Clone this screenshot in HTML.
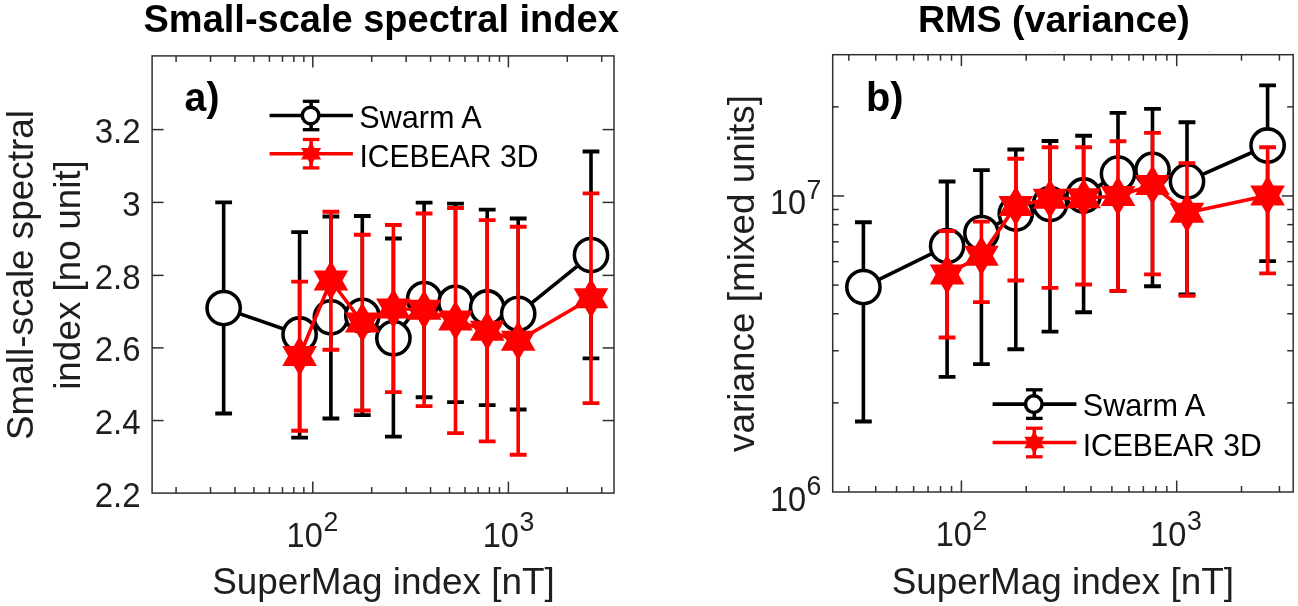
<!DOCTYPE html>
<html lang="en"><head><meta charset="utf-8"><title>Small-scale spectral index and RMS (variance)</title>
<style>
html,body{margin:0;padding:0;background:#fff;}
body{width:1298px;height:606px;overflow:hidden;font-family:"Liberation Sans", sans-serif;}
svg{display:block;}
</style></head><body>
<svg width="1298" height="606" viewBox="0 0 1298 606" font-family='"Liberation Sans", sans-serif' role="img" aria-label="Two-panel figure: small-scale spectral index and RMS variance versus SuperMag index">
<rect width="1298" height="606" fill="#fff"/>
<rect x="152.1" y="55.9" width="461.9" height="437.20000000000005" fill="#fff" stroke="#303030" stroke-width="1.5"/>
<line x1="176.08" y1="493.10" x2="176.08" y2="487.10" stroke="#303030" stroke-width="1.5" stroke-linecap="butt"/>
<line x1="176.08" y1="55.90" x2="176.08" y2="61.90" stroke="#303030" stroke-width="1.5" stroke-linecap="butt"/>
<line x1="210.52" y1="493.10" x2="210.52" y2="487.10" stroke="#303030" stroke-width="1.5" stroke-linecap="butt"/>
<line x1="210.52" y1="55.90" x2="210.52" y2="61.90" stroke="#303030" stroke-width="1.5" stroke-linecap="butt"/>
<line x1="234.96" y1="493.10" x2="234.96" y2="487.10" stroke="#303030" stroke-width="1.5" stroke-linecap="butt"/>
<line x1="234.96" y1="55.90" x2="234.96" y2="61.90" stroke="#303030" stroke-width="1.5" stroke-linecap="butt"/>
<line x1="253.92" y1="493.10" x2="253.92" y2="487.10" stroke="#303030" stroke-width="1.5" stroke-linecap="butt"/>
<line x1="253.92" y1="55.90" x2="253.92" y2="61.90" stroke="#303030" stroke-width="1.5" stroke-linecap="butt"/>
<line x1="269.41" y1="493.10" x2="269.41" y2="487.10" stroke="#303030" stroke-width="1.5" stroke-linecap="butt"/>
<line x1="269.41" y1="55.90" x2="269.41" y2="61.90" stroke="#303030" stroke-width="1.5" stroke-linecap="butt"/>
<line x1="282.50" y1="493.10" x2="282.50" y2="487.10" stroke="#303030" stroke-width="1.5" stroke-linecap="butt"/>
<line x1="282.50" y1="55.90" x2="282.50" y2="61.90" stroke="#303030" stroke-width="1.5" stroke-linecap="butt"/>
<line x1="293.84" y1="493.10" x2="293.84" y2="487.10" stroke="#303030" stroke-width="1.5" stroke-linecap="butt"/>
<line x1="293.84" y1="55.90" x2="293.84" y2="61.90" stroke="#303030" stroke-width="1.5" stroke-linecap="butt"/>
<line x1="303.85" y1="493.10" x2="303.85" y2="487.10" stroke="#303030" stroke-width="1.5" stroke-linecap="butt"/>
<line x1="303.85" y1="55.90" x2="303.85" y2="61.90" stroke="#303030" stroke-width="1.5" stroke-linecap="butt"/>
<line x1="312.80" y1="493.10" x2="312.80" y2="481.60" stroke="#303030" stroke-width="1.5" stroke-linecap="butt"/>
<line x1="312.80" y1="55.90" x2="312.80" y2="67.40" stroke="#303030" stroke-width="1.5" stroke-linecap="butt"/>
<line x1="371.68" y1="493.10" x2="371.68" y2="487.10" stroke="#303030" stroke-width="1.5" stroke-linecap="butt"/>
<line x1="371.68" y1="55.90" x2="371.68" y2="61.90" stroke="#303030" stroke-width="1.5" stroke-linecap="butt"/>
<line x1="406.12" y1="493.10" x2="406.12" y2="487.10" stroke="#303030" stroke-width="1.5" stroke-linecap="butt"/>
<line x1="406.12" y1="55.90" x2="406.12" y2="61.90" stroke="#303030" stroke-width="1.5" stroke-linecap="butt"/>
<line x1="430.56" y1="493.10" x2="430.56" y2="487.10" stroke="#303030" stroke-width="1.5" stroke-linecap="butt"/>
<line x1="430.56" y1="55.90" x2="430.56" y2="61.90" stroke="#303030" stroke-width="1.5" stroke-linecap="butt"/>
<line x1="449.52" y1="493.10" x2="449.52" y2="487.10" stroke="#303030" stroke-width="1.5" stroke-linecap="butt"/>
<line x1="449.52" y1="55.90" x2="449.52" y2="61.90" stroke="#303030" stroke-width="1.5" stroke-linecap="butt"/>
<line x1="465.01" y1="493.10" x2="465.01" y2="487.10" stroke="#303030" stroke-width="1.5" stroke-linecap="butt"/>
<line x1="465.01" y1="55.90" x2="465.01" y2="61.90" stroke="#303030" stroke-width="1.5" stroke-linecap="butt"/>
<line x1="478.10" y1="493.10" x2="478.10" y2="487.10" stroke="#303030" stroke-width="1.5" stroke-linecap="butt"/>
<line x1="478.10" y1="55.90" x2="478.10" y2="61.90" stroke="#303030" stroke-width="1.5" stroke-linecap="butt"/>
<line x1="489.44" y1="493.10" x2="489.44" y2="487.10" stroke="#303030" stroke-width="1.5" stroke-linecap="butt"/>
<line x1="489.44" y1="55.90" x2="489.44" y2="61.90" stroke="#303030" stroke-width="1.5" stroke-linecap="butt"/>
<line x1="499.45" y1="493.10" x2="499.45" y2="487.10" stroke="#303030" stroke-width="1.5" stroke-linecap="butt"/>
<line x1="499.45" y1="55.90" x2="499.45" y2="61.90" stroke="#303030" stroke-width="1.5" stroke-linecap="butt"/>
<line x1="508.40" y1="493.10" x2="508.40" y2="481.60" stroke="#303030" stroke-width="1.5" stroke-linecap="butt"/>
<line x1="508.40" y1="55.90" x2="508.40" y2="67.40" stroke="#303030" stroke-width="1.5" stroke-linecap="butt"/>
<line x1="567.28" y1="493.10" x2="567.28" y2="487.10" stroke="#303030" stroke-width="1.5" stroke-linecap="butt"/>
<line x1="567.28" y1="55.90" x2="567.28" y2="61.90" stroke="#303030" stroke-width="1.5" stroke-linecap="butt"/>
<line x1="601.72" y1="493.10" x2="601.72" y2="487.10" stroke="#303030" stroke-width="1.5" stroke-linecap="butt"/>
<line x1="601.72" y1="55.90" x2="601.72" y2="61.90" stroke="#303030" stroke-width="1.5" stroke-linecap="butt"/>
<text transform="translate(140.50 506.55) scale(1.0 1.06)" font-size="33.0" text-anchor="end" fill="#1e1e1e">2.2</text>
<line x1="152.10" y1="420.55" x2="163.60" y2="420.55" stroke="#303030" stroke-width="1.5" stroke-linecap="butt"/>
<line x1="614.00" y1="420.55" x2="602.50" y2="420.55" stroke="#303030" stroke-width="1.5" stroke-linecap="butt"/>
<text transform="translate(140.50 434.00) scale(1.0 1.06)" font-size="33.0" text-anchor="end" fill="#1e1e1e">2.4</text>
<line x1="152.10" y1="347.90" x2="163.60" y2="347.90" stroke="#303030" stroke-width="1.5" stroke-linecap="butt"/>
<line x1="614.00" y1="347.90" x2="602.50" y2="347.90" stroke="#303030" stroke-width="1.5" stroke-linecap="butt"/>
<text transform="translate(140.50 361.35) scale(1.0 1.06)" font-size="33.0" text-anchor="end" fill="#1e1e1e">2.6</text>
<line x1="152.10" y1="275.40" x2="163.60" y2="275.40" stroke="#303030" stroke-width="1.5" stroke-linecap="butt"/>
<line x1="614.00" y1="275.40" x2="602.50" y2="275.40" stroke="#303030" stroke-width="1.5" stroke-linecap="butt"/>
<text transform="translate(140.50 288.85) scale(1.0 1.06)" font-size="33.0" text-anchor="end" fill="#1e1e1e">2.8</text>
<line x1="152.10" y1="202.40" x2="163.60" y2="202.40" stroke="#303030" stroke-width="1.5" stroke-linecap="butt"/>
<line x1="614.00" y1="202.40" x2="602.50" y2="202.40" stroke="#303030" stroke-width="1.5" stroke-linecap="butt"/>
<text transform="translate(140.50 215.85) scale(1.0 1.06)" font-size="33.0" text-anchor="end" fill="#1e1e1e">3</text>
<line x1="152.10" y1="129.60" x2="163.60" y2="129.60" stroke="#303030" stroke-width="1.5" stroke-linecap="butt"/>
<line x1="614.00" y1="129.60" x2="602.50" y2="129.60" stroke="#303030" stroke-width="1.5" stroke-linecap="butt"/>
<text transform="translate(140.50 143.05) scale(1.0 1.06)" font-size="33.0" text-anchor="end" fill="#1e1e1e">3.2</text>
<text transform="translate(286.60 547.00) scale(0.985 1.06)" font-size="33.0" fill="#1e1e1e">10</text>
<text transform="translate(323.50 531.40) scale(1.0 1.03)" font-size="26.6" fill="#1e1e1e">2</text>
<text transform="translate(482.67 547.00) scale(0.985 1.06)" font-size="33.0" fill="#1e1e1e">10</text>
<text transform="translate(519.57 531.40) scale(1.0 1.03)" font-size="26.6" fill="#1e1e1e">3</text>
<text transform="translate(383.45 594.00)" font-size="36.9" text-anchor="middle" fill="#1e1e1e">SuperMag index [nT]</text>
<text transform="translate(33.00 275.00) rotate(-90)" font-size="36.9" text-anchor="middle" fill="#1e1e1e">Small-scale spectral</text>
<text transform="translate(80.00 275.00) rotate(-90)" font-size="36.9" text-anchor="middle" fill="#1e1e1e">index [no unit]</text>
<text transform="translate(381.15 31.90)" font-size="38" text-anchor="middle" font-weight="bold" fill="#000">Small-scale spectral index</text>
<g>
<polyline points="223.65,308.10 299.60,334.50 330.90,317.30 362.30,315.80 393.40,338.20 424.10,299.10 455.50,302.80 487.20,307.50 518.20,313.80 591.00,255.10" fill="none" stroke="#000000" stroke-width="3.6" stroke-linejoin="miter"/>
<path d="M223.65 202.40V413.50M299.60 232.10V437.60M330.90 216.50V418.50M362.30 216.00V415.10M393.40 238.50V436.60M424.10 202.60V397.30M455.50 203.60V402.10M487.20 209.60V405.10M518.20 218.50V409.50M591.00 151.50V358.40" fill="none" stroke="#000000" stroke-width="3.6"/>
<path d="M215.25 202.40h16.8M215.25 413.50h16.8M291.20 232.10h16.8M291.20 437.60h16.8M322.50 216.50h16.8M322.50 418.50h16.8M353.90 216.00h16.8M353.90 415.10h16.8M385.00 238.50h16.8M385.00 436.60h16.8M415.70 202.60h16.8M415.70 397.30h16.8M447.10 203.60h16.8M447.10 402.10h16.8M478.80 209.60h16.8M478.80 405.10h16.8M509.80 218.50h16.8M509.80 409.50h16.8M582.60 151.50h16.8M582.60 358.40h16.8" fill="none" stroke="#000000" stroke-width="3.9"/>
<circle cx="223.65" cy="308.10" r="16.62" fill="#fff" stroke="#000000" stroke-width="3.55"/>
<circle cx="299.60" cy="334.50" r="16.62" fill="#fff" stroke="#000000" stroke-width="3.55"/>
<circle cx="330.90" cy="317.30" r="16.62" fill="#fff" stroke="#000000" stroke-width="3.55"/>
<circle cx="362.30" cy="315.80" r="16.62" fill="#fff" stroke="#000000" stroke-width="3.55"/>
<circle cx="393.40" cy="338.20" r="16.62" fill="#fff" stroke="#000000" stroke-width="3.55"/>
<circle cx="424.10" cy="299.10" r="16.62" fill="#fff" stroke="#000000" stroke-width="3.55"/>
<circle cx="455.50" cy="302.80" r="16.62" fill="#fff" stroke="#000000" stroke-width="3.55"/>
<circle cx="487.20" cy="307.50" r="16.62" fill="#fff" stroke="#000000" stroke-width="3.55"/>
<circle cx="518.20" cy="313.80" r="16.62" fill="#fff" stroke="#000000" stroke-width="3.55"/>
<circle cx="591.00" cy="255.10" r="16.62" fill="#fff" stroke="#000000" stroke-width="3.55"/>
</g><g>
<polyline points="299.60,356.00 330.90,280.50 362.30,322.60 393.40,308.50 424.10,309.80 455.50,320.60 487.20,330.70 518.20,340.70 591.00,298.20" fill="none" stroke="#ff0000" stroke-width="3.6" stroke-linejoin="miter"/>
<path d="M299.60 281.60V430.70M330.90 211.70V349.70M362.30 234.70V410.50M393.40 225.00V392.10M424.10 213.50V406.10M455.50 208.00V433.10M487.20 220.10V441.40M518.20 226.70V454.80M591.00 193.40V403.10" fill="none" stroke="#ff0000" stroke-width="3.6"/>
<path d="M291.20 281.60h16.8M291.20 430.70h16.8M322.50 211.70h16.8M322.50 349.70h16.8M353.90 234.70h16.8M353.90 410.50h16.8M385.00 225.00h16.8M385.00 392.10h16.8M415.70 213.50h16.8M415.70 406.10h16.8M447.10 208.00h16.8M447.10 433.10h16.8M478.80 220.10h16.8M478.80 441.40h16.8M509.80 226.70h16.8M509.80 454.80h16.8M582.60 193.40h16.8M582.60 403.10h16.8" fill="none" stroke="#ff0000" stroke-width="3.9"/>
<polygon points="299.60,336.00 305.37,346.00 316.92,346.00 311.15,356.00 316.92,366.00 305.37,366.00 299.60,376.00 293.83,366.00 282.28,366.00 288.05,356.00 282.28,346.00 293.83,346.00" fill="#ff0000"/>
<polygon points="330.90,260.50 336.67,270.50 348.22,270.50 342.45,280.50 348.22,290.50 336.67,290.50 330.90,300.50 325.13,290.50 313.58,290.50 319.35,280.50 313.58,270.50 325.13,270.50" fill="#ff0000"/>
<polygon points="362.30,302.60 368.07,312.60 379.62,312.60 373.85,322.60 379.62,332.60 368.07,332.60 362.30,342.60 356.53,332.60 344.98,332.60 350.75,322.60 344.98,312.60 356.53,312.60" fill="#ff0000"/>
<polygon points="393.40,288.50 399.17,298.50 410.72,298.50 404.95,308.50 410.72,318.50 399.17,318.50 393.40,328.50 387.63,318.50 376.08,318.50 381.85,308.50 376.08,298.50 387.63,298.50" fill="#ff0000"/>
<polygon points="424.10,289.80 429.87,299.80 441.42,299.80 435.65,309.80 441.42,319.80 429.87,319.80 424.10,329.80 418.33,319.80 406.78,319.80 412.55,309.80 406.78,299.80 418.33,299.80" fill="#ff0000"/>
<polygon points="455.50,300.60 461.27,310.60 472.82,310.60 467.05,320.60 472.82,330.60 461.27,330.60 455.50,340.60 449.73,330.60 438.18,330.60 443.95,320.60 438.18,310.60 449.73,310.60" fill="#ff0000"/>
<polygon points="487.20,310.70 492.97,320.70 504.52,320.70 498.75,330.70 504.52,340.70 492.97,340.70 487.20,350.70 481.43,340.70 469.88,340.70 475.65,330.70 469.88,320.70 481.43,320.70" fill="#ff0000"/>
<polygon points="518.20,320.70 523.97,330.70 535.52,330.70 529.75,340.70 535.52,350.70 523.97,350.70 518.20,360.70 512.43,350.70 500.88,350.70 506.65,340.70 500.88,330.70 512.43,330.70" fill="#ff0000"/>
<polygon points="591.00,278.20 596.77,288.20 608.32,288.20 602.55,298.20 608.32,308.20 596.77,308.20 591.00,318.20 585.23,308.20 573.68,308.20 579.45,298.20 573.68,288.20 585.23,288.20" fill="#ff0000"/>
</g>
<line x1="269.60" y1="115.50" x2="352.90" y2="115.50" stroke="#000000" stroke-width="3.6" stroke-linecap="butt"/>
<line x1="311.10" y1="101.30" x2="311.10" y2="129.70" stroke="#000000" stroke-width="3.6" stroke-linecap="butt"/>
<line x1="302.80" y1="101.30" x2="319.40" y2="101.30" stroke="#000000" stroke-width="3.3" stroke-linecap="butt"/>
<line x1="302.80" y1="129.70" x2="319.40" y2="129.70" stroke="#000000" stroke-width="3.3" stroke-linecap="butt"/>
<circle cx="310.60" cy="115.50" r="8.3" fill="#fff" stroke="#000000" stroke-width="3.5"/>
<line x1="269.60" y1="153.70" x2="352.90" y2="153.70" stroke="#ff0000" stroke-width="3.6" stroke-linecap="butt"/>
<line x1="311.10" y1="139.50" x2="311.10" y2="167.90" stroke="#ff0000" stroke-width="3.6" stroke-linecap="butt"/>
<line x1="302.80" y1="139.50" x2="319.40" y2="139.50" stroke="#ff0000" stroke-width="3.3" stroke-linecap="butt"/>
<line x1="302.80" y1="167.90" x2="319.40" y2="167.90" stroke="#ff0000" stroke-width="3.3" stroke-linecap="butt"/>
<polygon points="311.10,142.10 314.45,147.90 321.15,147.90 317.80,153.70 321.15,159.50 314.45,159.50 311.10,165.30 307.75,159.50 301.05,159.50 304.40,153.70 301.05,147.90 307.75,147.90" fill="#ff0000"/>
<text transform="translate(359.20 128.00) scale(1.015 1.01)" font-size="30.2" fill="#000">Swarm A</text>
<text transform="translate(359.45 167.00) scale(0.997 1.02)" font-size="30.2" fill="#000">ICEBEAR 3D</text>
<text transform="translate(184.60 110.80) scale(1.005 1.035)" font-size="39" font-weight="bold" fill="#000">a)</text>
<rect x="832.7" y="54.7" width="460.5" height="437.3" fill="#fff" stroke="#303030" stroke-width="1.5"/>
<line x1="848.82" y1="492.00" x2="848.82" y2="486.00" stroke="#303030" stroke-width="1.5" stroke-linecap="butt"/>
<line x1="848.82" y1="54.70" x2="848.82" y2="60.70" stroke="#303030" stroke-width="1.5" stroke-linecap="butt"/>
<line x1="875.72" y1="492.00" x2="875.72" y2="486.00" stroke="#303030" stroke-width="1.5" stroke-linecap="butt"/>
<line x1="875.72" y1="54.70" x2="875.72" y2="60.70" stroke="#303030" stroke-width="1.5" stroke-linecap="butt"/>
<line x1="896.59" y1="492.00" x2="896.59" y2="486.00" stroke="#303030" stroke-width="1.5" stroke-linecap="butt"/>
<line x1="896.59" y1="54.70" x2="896.59" y2="60.70" stroke="#303030" stroke-width="1.5" stroke-linecap="butt"/>
<line x1="913.64" y1="492.00" x2="913.64" y2="486.00" stroke="#303030" stroke-width="1.5" stroke-linecap="butt"/>
<line x1="913.64" y1="54.70" x2="913.64" y2="60.70" stroke="#303030" stroke-width="1.5" stroke-linecap="butt"/>
<line x1="928.05" y1="492.00" x2="928.05" y2="486.00" stroke="#303030" stroke-width="1.5" stroke-linecap="butt"/>
<line x1="928.05" y1="54.70" x2="928.05" y2="60.70" stroke="#303030" stroke-width="1.5" stroke-linecap="butt"/>
<line x1="940.54" y1="492.00" x2="940.54" y2="486.00" stroke="#303030" stroke-width="1.5" stroke-linecap="butt"/>
<line x1="940.54" y1="54.70" x2="940.54" y2="60.70" stroke="#303030" stroke-width="1.5" stroke-linecap="butt"/>
<line x1="951.55" y1="492.00" x2="951.55" y2="486.00" stroke="#303030" stroke-width="1.5" stroke-linecap="butt"/>
<line x1="951.55" y1="54.70" x2="951.55" y2="60.70" stroke="#303030" stroke-width="1.5" stroke-linecap="butt"/>
<line x1="961.40" y1="492.00" x2="961.40" y2="480.50" stroke="#303030" stroke-width="1.5" stroke-linecap="butt"/>
<line x1="961.40" y1="54.70" x2="961.40" y2="66.20" stroke="#303030" stroke-width="1.5" stroke-linecap="butt"/>
<line x1="1026.21" y1="492.00" x2="1026.21" y2="486.00" stroke="#303030" stroke-width="1.5" stroke-linecap="butt"/>
<line x1="1026.21" y1="54.70" x2="1026.21" y2="60.70" stroke="#303030" stroke-width="1.5" stroke-linecap="butt"/>
<line x1="1064.12" y1="492.00" x2="1064.12" y2="486.00" stroke="#303030" stroke-width="1.5" stroke-linecap="butt"/>
<line x1="1064.12" y1="54.70" x2="1064.12" y2="60.70" stroke="#303030" stroke-width="1.5" stroke-linecap="butt"/>
<line x1="1091.02" y1="492.00" x2="1091.02" y2="486.00" stroke="#303030" stroke-width="1.5" stroke-linecap="butt"/>
<line x1="1091.02" y1="54.70" x2="1091.02" y2="60.70" stroke="#303030" stroke-width="1.5" stroke-linecap="butt"/>
<line x1="1111.89" y1="492.00" x2="1111.89" y2="486.00" stroke="#303030" stroke-width="1.5" stroke-linecap="butt"/>
<line x1="1111.89" y1="54.70" x2="1111.89" y2="60.70" stroke="#303030" stroke-width="1.5" stroke-linecap="butt"/>
<line x1="1128.94" y1="492.00" x2="1128.94" y2="486.00" stroke="#303030" stroke-width="1.5" stroke-linecap="butt"/>
<line x1="1128.94" y1="54.70" x2="1128.94" y2="60.70" stroke="#303030" stroke-width="1.5" stroke-linecap="butt"/>
<line x1="1143.35" y1="492.00" x2="1143.35" y2="486.00" stroke="#303030" stroke-width="1.5" stroke-linecap="butt"/>
<line x1="1143.35" y1="54.70" x2="1143.35" y2="60.70" stroke="#303030" stroke-width="1.5" stroke-linecap="butt"/>
<line x1="1155.84" y1="492.00" x2="1155.84" y2="486.00" stroke="#303030" stroke-width="1.5" stroke-linecap="butt"/>
<line x1="1155.84" y1="54.70" x2="1155.84" y2="60.70" stroke="#303030" stroke-width="1.5" stroke-linecap="butt"/>
<line x1="1166.85" y1="492.00" x2="1166.85" y2="486.00" stroke="#303030" stroke-width="1.5" stroke-linecap="butt"/>
<line x1="1166.85" y1="54.70" x2="1166.85" y2="60.70" stroke="#303030" stroke-width="1.5" stroke-linecap="butt"/>
<line x1="1176.70" y1="492.00" x2="1176.70" y2="480.50" stroke="#303030" stroke-width="1.5" stroke-linecap="butt"/>
<line x1="1176.70" y1="54.70" x2="1176.70" y2="66.20" stroke="#303030" stroke-width="1.5" stroke-linecap="butt"/>
<line x1="1241.51" y1="492.00" x2="1241.51" y2="486.00" stroke="#303030" stroke-width="1.5" stroke-linecap="butt"/>
<line x1="1241.51" y1="54.70" x2="1241.51" y2="60.70" stroke="#303030" stroke-width="1.5" stroke-linecap="butt"/>
<line x1="1279.42" y1="492.00" x2="1279.42" y2="486.00" stroke="#303030" stroke-width="1.5" stroke-linecap="butt"/>
<line x1="1279.42" y1="54.70" x2="1279.42" y2="60.70" stroke="#303030" stroke-width="1.5" stroke-linecap="butt"/>
<line x1="832.70" y1="402.88" x2="838.70" y2="402.88" stroke="#303030" stroke-width="1.5" stroke-linecap="butt"/>
<line x1="1293.20" y1="402.88" x2="1287.20" y2="402.88" stroke="#303030" stroke-width="1.5" stroke-linecap="butt"/>
<line x1="832.70" y1="350.75" x2="838.70" y2="350.75" stroke="#303030" stroke-width="1.5" stroke-linecap="butt"/>
<line x1="1293.20" y1="350.75" x2="1287.20" y2="350.75" stroke="#303030" stroke-width="1.5" stroke-linecap="butt"/>
<line x1="832.70" y1="313.76" x2="838.70" y2="313.76" stroke="#303030" stroke-width="1.5" stroke-linecap="butt"/>
<line x1="1293.20" y1="313.76" x2="1287.20" y2="313.76" stroke="#303030" stroke-width="1.5" stroke-linecap="butt"/>
<line x1="832.70" y1="285.07" x2="838.70" y2="285.07" stroke="#303030" stroke-width="1.5" stroke-linecap="butt"/>
<line x1="1293.20" y1="285.07" x2="1287.20" y2="285.07" stroke="#303030" stroke-width="1.5" stroke-linecap="butt"/>
<line x1="832.70" y1="261.63" x2="838.70" y2="261.63" stroke="#303030" stroke-width="1.5" stroke-linecap="butt"/>
<line x1="1293.20" y1="261.63" x2="1287.20" y2="261.63" stroke="#303030" stroke-width="1.5" stroke-linecap="butt"/>
<line x1="832.70" y1="241.81" x2="838.70" y2="241.81" stroke="#303030" stroke-width="1.5" stroke-linecap="butt"/>
<line x1="1293.20" y1="241.81" x2="1287.20" y2="241.81" stroke="#303030" stroke-width="1.5" stroke-linecap="butt"/>
<line x1="832.70" y1="224.64" x2="838.70" y2="224.64" stroke="#303030" stroke-width="1.5" stroke-linecap="butt"/>
<line x1="1293.20" y1="224.64" x2="1287.20" y2="224.64" stroke="#303030" stroke-width="1.5" stroke-linecap="butt"/>
<line x1="832.70" y1="209.50" x2="838.70" y2="209.50" stroke="#303030" stroke-width="1.5" stroke-linecap="butt"/>
<line x1="1293.20" y1="209.50" x2="1287.20" y2="209.50" stroke="#303030" stroke-width="1.5" stroke-linecap="butt"/>
<line x1="832.70" y1="195.95" x2="844.20" y2="195.95" stroke="#303030" stroke-width="1.5" stroke-linecap="butt"/>
<line x1="1293.20" y1="195.95" x2="1281.70" y2="195.95" stroke="#303030" stroke-width="1.5" stroke-linecap="butt"/>
<line x1="832.70" y1="106.83" x2="838.70" y2="106.83" stroke="#303030" stroke-width="1.5" stroke-linecap="butt"/>
<line x1="1293.20" y1="106.83" x2="1287.20" y2="106.83" stroke="#303030" stroke-width="1.5" stroke-linecap="butt"/>
<text transform="translate(770.00 510.50) scale(0.985 1.06)" font-size="33.0" fill="#1e1e1e">10</text>
<text transform="translate(806.60 494.90) scale(1.0 1.03)" font-size="26.6" fill="#1e1e1e">6</text>
<text transform="translate(770.00 214.45) scale(0.985 1.06)" font-size="33.0" fill="#1e1e1e">10</text>
<text transform="translate(806.60 198.85) scale(1.0 1.03)" font-size="26.6" fill="#1e1e1e">7</text>
<text transform="translate(935.80 546.00) scale(0.985 1.06)" font-size="33.0" fill="#1e1e1e">10</text>
<text transform="translate(972.60 529.85) scale(1.0 1.03)" font-size="26.6" fill="#1e1e1e">2</text>
<text transform="translate(1150.20 546.00) scale(0.985 1.06)" font-size="33.0" fill="#1e1e1e">10</text>
<text transform="translate(1187.00 529.85) scale(1.0 1.03)" font-size="26.6" fill="#1e1e1e">3</text>
<text transform="translate(1062.85 593.80)" font-size="36.9" text-anchor="middle" fill="#1e1e1e">SuperMag index [nT]</text>
<text transform="translate(754.20 273.50) rotate(-90)" font-size="36.9" text-anchor="middle" fill="#1e1e1e">variance [mixed units]</text>
<text transform="translate(1053.90 32.20)" font-size="37.65" text-anchor="middle" font-weight="bold" fill="#000">RMS (variance)</text>
<rect x="1018.0" y="51.2" width="3" height="1" fill="#dcdcdc"/>
<rect x="1053.1" y="51.2" width="3" height="1" fill="#dcdcdc"/>
<rect x="1208.2" y="51.2" width="3" height="1" fill="#dcdcdc"/>
<g>
<polyline points="863.40,287.10 947.10,246.10 981.40,233.10 1015.80,213.50 1050.00,204.10 1083.60,195.50 1118.00,173.70 1152.50,169.90 1187.00,181.40 1267.60,145.50" fill="none" stroke="#000000" stroke-width="3.6" stroke-linejoin="miter"/>
<path d="M863.40 222.20V421.50M947.10 181.50V376.90M981.40 170.10V364.10M1015.80 149.50V349.30M1050.00 141.00V331.60M1083.60 135.80V312.20M1118.00 112.90V290.90M1152.50 108.90V286.30M1187.00 122.30V294.50M1267.60 85.40V261.10" fill="none" stroke="#000000" stroke-width="3.6"/>
<path d="M855.00 222.20h16.8M855.00 421.50h16.8M938.70 181.50h16.8M938.70 376.90h16.8M973.00 170.10h16.8M973.00 364.10h16.8M1007.40 149.50h16.8M1007.40 349.30h16.8M1041.60 141.00h16.8M1041.60 331.60h16.8M1075.20 135.80h16.8M1075.20 312.20h16.8M1109.60 112.90h16.8M1109.60 290.90h16.8M1144.10 108.90h16.8M1144.10 286.30h16.8M1178.60 122.30h16.8M1178.60 294.50h16.8M1259.20 85.40h16.8M1259.20 261.10h16.8" fill="none" stroke="#000000" stroke-width="3.9"/>
<circle cx="863.40" cy="287.10" r="16.62" fill="#fff" stroke="#000000" stroke-width="3.55"/>
<circle cx="947.10" cy="246.10" r="16.62" fill="#fff" stroke="#000000" stroke-width="3.55"/>
<circle cx="981.40" cy="233.10" r="16.62" fill="#fff" stroke="#000000" stroke-width="3.55"/>
<circle cx="1015.80" cy="213.50" r="16.62" fill="#fff" stroke="#000000" stroke-width="3.55"/>
<circle cx="1050.00" cy="204.10" r="16.62" fill="#fff" stroke="#000000" stroke-width="3.55"/>
<circle cx="1083.60" cy="195.50" r="16.62" fill="#fff" stroke="#000000" stroke-width="3.55"/>
<circle cx="1118.00" cy="173.70" r="16.62" fill="#fff" stroke="#000000" stroke-width="3.55"/>
<circle cx="1152.50" cy="169.90" r="16.62" fill="#fff" stroke="#000000" stroke-width="3.55"/>
<circle cx="1187.00" cy="181.40" r="16.62" fill="#fff" stroke="#000000" stroke-width="3.55"/>
<circle cx="1267.60" cy="145.50" r="16.62" fill="#fff" stroke="#000000" stroke-width="3.55"/>
</g><g>
<polyline points="947.10,274.50 981.40,255.70 1015.80,205.90 1050.00,198.80 1083.60,198.30 1118.00,196.00 1152.50,184.90 1187.00,212.70 1267.60,195.40" fill="none" stroke="#ff0000" stroke-width="3.6" stroke-linejoin="miter"/>
<path d="M947.10 231.00V337.50M981.40 221.60V302.10M1015.80 158.70V280.50M1050.00 147.20V287.90M1083.60 147.20V284.50M1118.00 141.30V290.90M1152.50 132.90V274.40M1187.00 163.10V295.90M1267.60 147.30V273.40" fill="none" stroke="#ff0000" stroke-width="3.6"/>
<path d="M938.70 231.00h16.8M938.70 337.50h16.8M973.00 221.60h16.8M973.00 302.10h16.8M1007.40 158.70h16.8M1007.40 280.50h16.8M1041.60 147.20h16.8M1041.60 287.90h16.8M1075.20 147.20h16.8M1075.20 284.50h16.8M1109.60 141.30h16.8M1109.60 290.90h16.8M1144.10 132.90h16.8M1144.10 274.40h16.8M1178.60 163.10h16.8M1178.60 295.90h16.8M1259.20 147.30h16.8M1259.20 273.40h16.8" fill="none" stroke="#ff0000" stroke-width="3.9"/>
<polygon points="947.10,254.50 952.87,264.50 964.42,264.50 958.65,274.50 964.42,284.50 952.87,284.50 947.10,294.50 941.33,284.50 929.78,284.50 935.55,274.50 929.78,264.50 941.33,264.50" fill="#ff0000"/>
<polygon points="981.40,235.70 987.17,245.70 998.72,245.70 992.95,255.70 998.72,265.70 987.17,265.70 981.40,275.70 975.63,265.70 964.08,265.70 969.85,255.70 964.08,245.70 975.63,245.70" fill="#ff0000"/>
<polygon points="1015.80,185.90 1021.57,195.90 1033.12,195.90 1027.35,205.90 1033.12,215.90 1021.57,215.90 1015.80,225.90 1010.03,215.90 998.48,215.90 1004.25,205.90 998.48,195.90 1010.03,195.90" fill="#ff0000"/>
<polygon points="1050.00,178.80 1055.77,188.80 1067.32,188.80 1061.55,198.80 1067.32,208.80 1055.77,208.80 1050.00,218.80 1044.23,208.80 1032.68,208.80 1038.45,198.80 1032.68,188.80 1044.23,188.80" fill="#ff0000"/>
<polygon points="1083.60,178.30 1089.37,188.30 1100.92,188.30 1095.15,198.30 1100.92,208.30 1089.37,208.30 1083.60,218.30 1077.83,208.30 1066.28,208.30 1072.05,198.30 1066.28,188.30 1077.83,188.30" fill="#ff0000"/>
<polygon points="1118.00,176.00 1123.77,186.00 1135.32,186.00 1129.55,196.00 1135.32,206.00 1123.77,206.00 1118.00,216.00 1112.23,206.00 1100.68,206.00 1106.45,196.00 1100.68,186.00 1112.23,186.00" fill="#ff0000"/>
<polygon points="1152.50,164.90 1158.27,174.90 1169.82,174.90 1164.05,184.90 1169.82,194.90 1158.27,194.90 1152.50,204.90 1146.73,194.90 1135.18,194.90 1140.95,184.90 1135.18,174.90 1146.73,174.90" fill="#ff0000"/>
<polygon points="1187.00,192.70 1192.77,202.70 1204.32,202.70 1198.55,212.70 1204.32,222.70 1192.77,222.70 1187.00,232.70 1181.23,222.70 1169.68,222.70 1175.45,212.70 1169.68,202.70 1181.23,202.70" fill="#ff0000"/>
<polygon points="1267.60,175.40 1273.37,185.40 1284.92,185.40 1279.15,195.40 1284.92,205.40 1273.37,205.40 1267.60,215.40 1261.83,205.40 1250.28,205.40 1256.05,195.40 1250.28,185.40 1261.83,185.40" fill="#ff0000"/>
</g>
<line x1="992.60" y1="404.10" x2="1076.40" y2="404.10" stroke="#000000" stroke-width="3.6" stroke-linecap="butt"/>
<line x1="1034.30" y1="389.80" x2="1034.30" y2="418.40" stroke="#000000" stroke-width="3.6" stroke-linecap="butt"/>
<line x1="1026.00" y1="389.80" x2="1042.60" y2="389.80" stroke="#000000" stroke-width="3.3" stroke-linecap="butt"/>
<line x1="1026.00" y1="418.40" x2="1042.60" y2="418.40" stroke="#000000" stroke-width="3.3" stroke-linecap="butt"/>
<circle cx="1033.80" cy="404.10" r="8.3" fill="#fff" stroke="#000000" stroke-width="3.5"/>
<line x1="992.60" y1="442.50" x2="1076.40" y2="442.50" stroke="#ff0000" stroke-width="3.6" stroke-linecap="butt"/>
<line x1="1034.30" y1="428.20" x2="1034.30" y2="456.80" stroke="#ff0000" stroke-width="3.6" stroke-linecap="butt"/>
<line x1="1026.00" y1="428.20" x2="1042.60" y2="428.20" stroke="#ff0000" stroke-width="3.3" stroke-linecap="butt"/>
<line x1="1026.00" y1="456.80" x2="1042.60" y2="456.80" stroke="#ff0000" stroke-width="3.3" stroke-linecap="butt"/>
<polygon points="1034.30,430.90 1037.65,436.70 1044.35,436.70 1041.00,442.50 1044.35,448.30 1037.65,448.30 1034.30,454.10 1030.95,448.30 1024.25,448.30 1027.60,442.50 1024.25,436.70 1030.95,436.70" fill="#ff0000"/>
<text transform="translate(1082.70 415.90) scale(1.015 1.01)" font-size="30.2" fill="#000">Swarm A</text>
<text transform="translate(1082.70 455.50) scale(0.997 1.02)" font-size="30.2" fill="#000">ICEBEAR 3D</text>
<text transform="translate(866.00 111.00) scale(1.02 1.02)" font-size="39" font-weight="bold" fill="#000">b)</text>
</svg>
</body></html>
